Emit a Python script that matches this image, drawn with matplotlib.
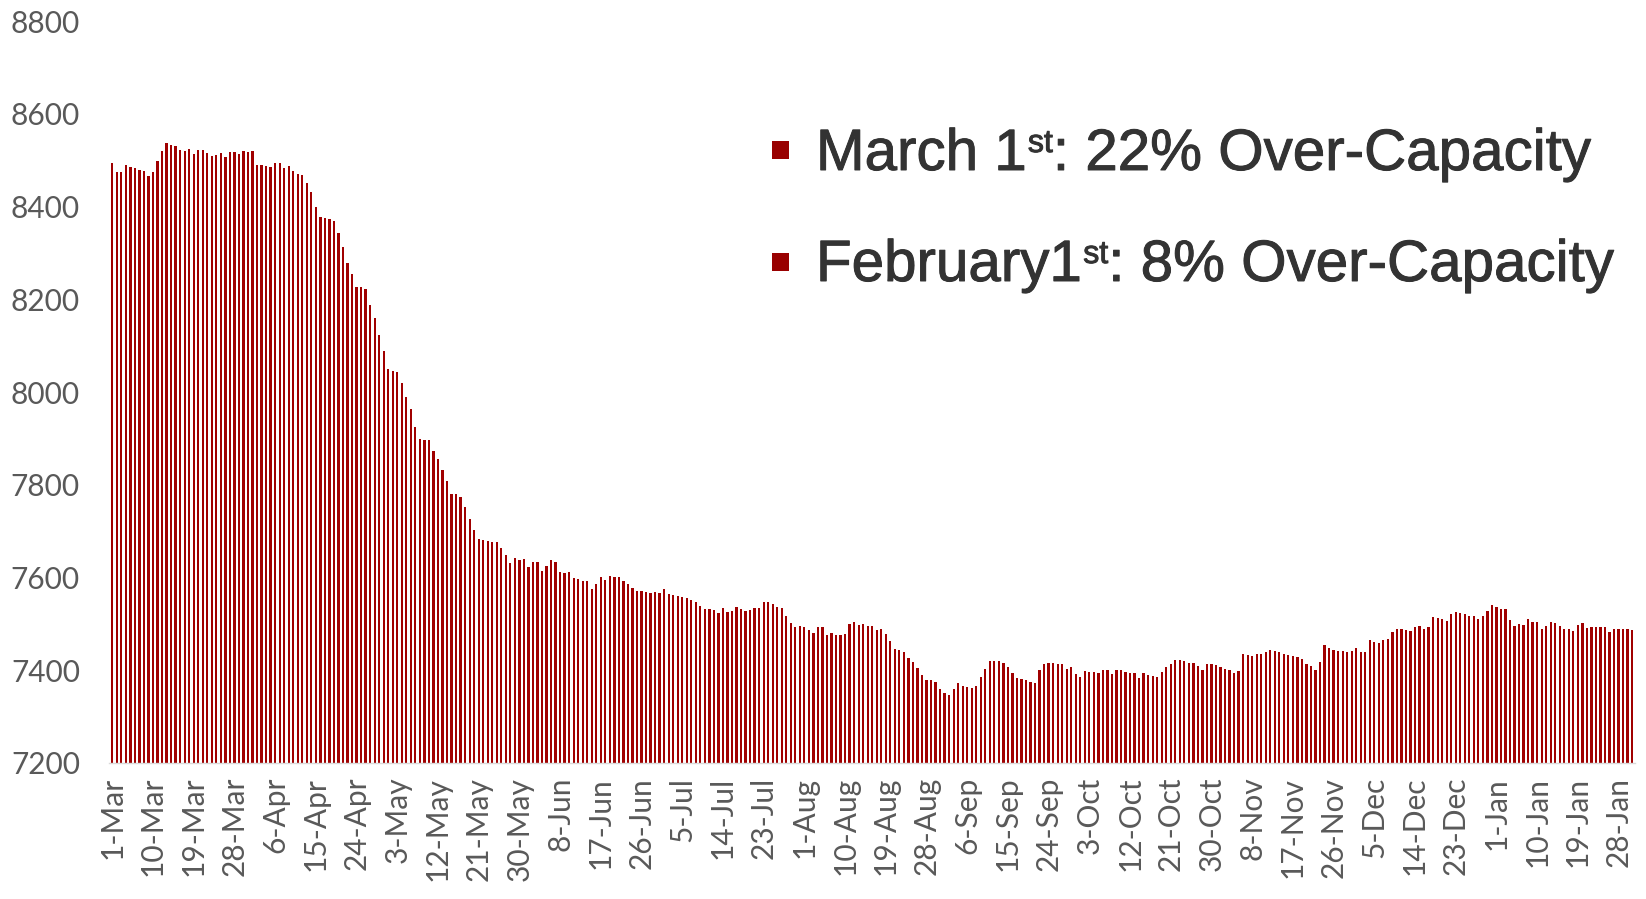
import numpy as np
import pandas as pd
import matplotlib
matplotlib.use("Agg")
import matplotlib.pyplot as plt
from matplotlib.patches import Rectangle
import matplotlib.patheffects as pe

# daily values, one list per month
mar = [8493, 8474, 8474, 8489, 8485, 8482, 8478, 8476, 8466, 8475, 8499, 8519, 8536, 8532, 8530, 8521,
       8519, 8523, 8513, 8521, 8521, 8516, 8509, 8512, 8515, 8506, 8517, 8517, 8513, 8519, 8518]
apr = [8520, 8489, 8490, 8488, 8486, 8493, 8493, 8483, 8487, 8477, 8471, 8468, 8450, 8432, 8398, 8377,
       8375, 8374, 8369, 8343, 8313, 8278, 8254, 8226, 8226, 8223, 8187, 8159, 8124, 8088]
may = [8050, 8046, 8044, 8019, 7990, 7963, 7925, 7899, 7897, 7896, 7872, 7855, 7832, 7808, 7781, 7779,
       7773, 7753, 7727, 7702, 7684, 7680, 7679, 7677, 7677, 7663, 7648, 7631, 7641, 7638, 7639]
jun = [7623, 7633, 7633, 7615, 7625, 7637, 7633, 7612, 7610, 7612, 7599, 7596, 7593, 7592, 7575, 7586,
       7602, 7595, 7603, 7602, 7600, 7592, 7587, 7577, 7571, 7570, 7568, 7566, 7569, 7566]
jul = [7575, 7564, 7562, 7560, 7559, 7556, 7551, 7548, 7538, 7533, 7531, 7530, 7524, 7534, 7526, 7527,
       7536, 7531, 7527, 7530, 7534, 7534, 7548, 7548, 7542, 7536, 7535, 7518, 7502, 7493, 7495]
aug = [7493, 7487, 7481, 7493, 7493, 7477, 7480, 7477, 7475, 7479, 7500, 7504, 7498, 7499, 7495, 7495,
       7487, 7488, 7478, 7462, 7446, 7443, 7439, 7426, 7418, 7404, 7390, 7379, 7378, 7375, 7359]
sep = [7350, 7346, 7359, 7372, 7365, 7363, 7361, 7367, 7385, 7403, 7421, 7421, 7421, 7416, 7408, 7393,
       7383, 7382, 7379, 7375, 7372, 7401, 7413, 7415, 7416, 7413, 7413, 7403, 7408, 7392]
oct_ = [7386, 7398, 7397, 7397, 7393, 7401, 7401, 7392, 7400, 7400, 7397, 7394, 7394, 7383, 7393, 7390,
        7387, 7385, 7397, 7408, 7413, 7422, 7422, 7419, 7415, 7415, 7410, 7400, 7413, 7413, 7411]
nov = [7406, 7403, 7401, 7393, 7398, 7435, 7433, 7430, 7434, 7436, 7439, 7443, 7441, 7439, 7436, 7432,
       7430, 7428, 7424, 7413, 7410, 7401, 7417, 7454, 7449, 7444, 7442, 7441, 7439, 7441]
dec = [7449, 7439, 7439, 7465, 7461, 7459, 7465, 7467, 7482, 7490, 7488, 7486, 7484, 7493, 7496, 7490,
       7493, 7514, 7512, 7510, 7506, 7521, 7526, 7523, 7521, 7518, 7517, 7510, 7518, 7528, 7540]
jan = [7536, 7533, 7531, 7508, 7495, 7499, 7497, 7510, 7505, 7505, 7488, 7495, 7503, 7502, 7496, 7490,
       7490, 7485, 7498, 7501, 7491, 7493, 7494, 7493, 7493, 7482, 7490, 7488, 7489, 7488, 7487]

values = mar + apr + may + jun + jul + aug + sep + oct_ + nov + dec + jan
dates = pd.date_range("2020-03-01", periods=len(values), freq="D")
labels = [f"{d.day}-{d.strftime('%b')}" for d in dates]

# legend entries: (before superscript, superscript, after)
legend_parts = [("March 1", "st", ": 22% Over-Capacity"),
                ("February1", "st", ": 8% Over-Capacity")]

bar_color = "#A00000"
grey = "#595959"

fig = plt.figure(figsize=(16.46, 8.99), dpi=100)
ax = fig.add_axes([0.0663, 0.1513, 0.9272, 0.8253])

x = np.arange(len(values))
base = 7200
ax.bar(x, np.array(values) - base, bottom=base, width=0.5, color=bar_color, linewidth=0)

ax.set_ylim(7200, 8800)
ax.set_yticks(np.arange(7200, 8801, 200))
ax.set_xlim(-0.7, len(values) - 0.3)
ax.set_xticks(x[::9])
ax.set_xticklabels(labels[::9], rotation=90)

for s in ['top', 'right', 'left']:
    ax.spines[s].set_visible(False)
ax.spines['bottom'].set_color('#d9d9d9')
ax.spines['bottom'].set_linewidth(1.0)
ax.tick_params(axis='both', length=0, colors=grey)
ax.tick_params(axis='y', pad=21)
ax.tick_params(axis='x', pad=10)
for t in ax.get_xticklabels() + ax.get_yticklabels():
    t.set_fontfamily('Lato')
    t.set_fontsize(21.5)
    t.set_color(grey)

# legend drawn by hand: square + text pieces (small raised "st")
W, H = 1646.0, 899.0
sq = 17
fs = 42
thick = [pe.withStroke(linewidth=0.7, foreground='#333333')]
renderer = fig.canvas.get_renderer()
for (pre, sup, post), cy, base_y in zip(legend_parts, [150, 262], [170, 281]):
    fig.add_artist(Rectangle(((780 - sq / 2) / W, 1 - (cy + sq / 2) / H), sq / W, sq / H,
                             transform=fig.transFigure, facecolor="#990000", edgecolor='none'))
    xpx = 816
    ypx = H - base_y
    t1 = fig.text(xpx / W, ypx / H, pre, fontsize=fs, family='Liberation Sans',
                  color='#333333', va='baseline', ha='left', path_effects=thick)
    xpx += t1.get_window_extent(renderer).width + 1
    t2 = fig.text(xpx / W, (ypx + 18) / H, sup, fontsize=fs * 0.55, family='Liberation Sans',
                  color='#333333', va='baseline', ha='left', path_effects=thick)
    xpx += t2.get_window_extent(renderer).width
    fig.text(xpx / W, ypx / H, post, fontsize=fs, family='Liberation Sans',
             color='#333333', va='baseline', ha='left', path_effects=thick)

fig.savefig("out.png", dpi=100)
